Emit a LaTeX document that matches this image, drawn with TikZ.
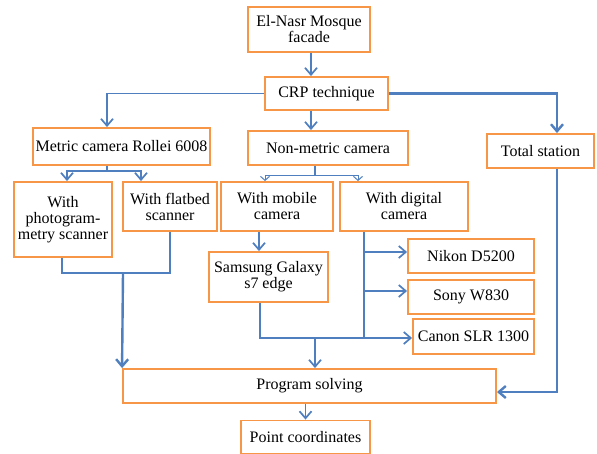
\documentclass[tikz,border=0pt]{standalone}
\usepackage{fontspec}
\setmainfont{Liberation Serif}
\usepackage{tikz}
\usetikzlibrary{arrows.meta, positioning, calc}
\usepackage{xcolor}
\definecolor{boxorange}{HTML}{F79646}
\definecolor{linkblue}{HTML}{4F7FBF}

\begin{document}
\begin{tikzpicture}[
    x=1pt, y=-1pt,
    box/.style={draw=boxorange, line width=1.9pt, fill=white, align=center, inner sep=2pt,
        font=\fontsize{16}{16}\selectfont},
    link/.style={draw=linkblue, line width=1.7pt},
    arrow/.style={link, -{Straight Barb[length=7pt, width=12pt]}},
    arrowthick/.style={arrow, line width=2.4pt},
    arrowthin/.style={draw=linkblue, line width=1pt, -{Straight Barb[length=4pt, width=9pt]}},
]
\useasboundingbox (0,0) rectangle (597,453);

% Layer 1: facade and technique
\node[box, minimum width=122pt, minimum height=45pt] (facade) at (309,29.5) {El-Nasr Mosque\\facade};
\node[box, minimum width=123pt, minimum height=33pt] (crp) at (326.5,93.5) {CRP technique};

% Layer 2: cameras and total station
\node[box, minimum width=177pt, minimum height=37pt] (metric) at (121.5,146.5) {Metric camera Rollei 6008};
\node[box, minimum width=160pt, minimum height=34pt] (nonmetric) at (328,148) {Non-metric camera};
\node[box, minimum width=107pt, minimum height=34pt] (total) at (540.5,151) {Total station};

% Layer 3: scanners and camera types
\node[box, minimum width=98pt, minimum height=75pt] (photo) at (63,219.5) {With\\photogram-\\metry scanner};
\node[box, minimum width=94pt, minimum height=49pt] (flatbed) at (170,206.5) {With flatbed\\scanner};
\node[box, minimum width=112pt, minimum height=49pt] (mobile) at (277,206.5) {With mobile\\camera};
\node[box, minimum width=128pt, minimum height=49pt] (digital) at (404,206.5) {With digital\\camera};

% Layer 4: devices
\node[box, minimum width=119pt, minimum height=50pt] (samsung) at (268.5,277) {Samsung Galaxy\\s7 edge};
\node[box, minimum width=126pt, minimum height=34pt] (nikon) at (471,256) {Nikon D5200};
\node[box, minimum width=126pt, minimum height=34pt] (sony) at (471,297) {Sony W830};
\node[box, minimum width=121pt, minimum height=35pt] (canon) at (473.5,336.5) {Canon SLR 1300};

% Layer 5: solving and result
\node[box, minimum width=373pt, minimum height=34pt] (program) at (309.5,386) {Program solving};
\node[box, minimum width=129pt, minimum height=33pt] (point) at (305.5,437) {Point coordinates};

% Branch points
\coordinate (mfork) at (107,171);
\coordinate (nfork) at (315,175);
\coordinate (sjoin) at (123,273);
\coordinate (cjoin) at (364,338);
\coordinate (pdrop) at (315,338);

% Connectors
\draw[arrow] ([xshift=2pt]facade.south) -- ([xshift=2pt]facade.south |- crp.north);
\draw[arrow] (crp.west) -| ([xshift=-14.5pt]metric.north);
\draw[arrow] ([xshift=-15.5pt]crp.south) -- ([xshift=-15.5pt]crp.south |- nonmetric.north);
\draw[arrowthick] (crp.east) -| ([xshift=16.5pt]total.north);

\draw[link] (metric.south -| mfork) -- (mfork);
\draw[arrow] (mfork) -| ([xshift=4pt]photo.north);
\draw[arrow] (mfork) -| ([xshift=-29pt]flatbed.north);

\draw[link] (nonmetric.south -| nfork) -- (nfork);
\draw[arrowthin] (nfork) -| ([xshift=-12pt]mobile.north);
\draw[arrowthin] (nfork) -| ([xshift=-46pt]digital.north);

\draw[link] ([xshift=-1pt]photo.south) |- (sjoin) -| (flatbed.south);
\draw[arrowthick] (sjoin) -- (program.north west);

\draw[arrow] ([xshift=-18pt]mobile.south) -- ([xshift=-18pt]mobile.south |- samsung.north);
\draw[link] ([xshift=-8.5pt]samsung.south) |- (cjoin);
\draw[link] (digital.south -| cjoin) -- (cjoin);
\draw[arrow] (cjoin |- 0,252) -- (nikon.west |- 0,252);
\draw[arrow] (cjoin |- 0,291) -- (sony.west |- 0,291);
\draw[arrow] (cjoin) -- (cjoin -| canon.west);
\draw[arrow] (pdrop) -- (pdrop |- program.north);

\draw[arrowthick] ([xshift=16.5pt]total.south) |- ([yshift=-6pt]program.east);
\draw[arrow] (program.south -| point.north) -- (point.north);

\end{tikzpicture}
\end{document}
